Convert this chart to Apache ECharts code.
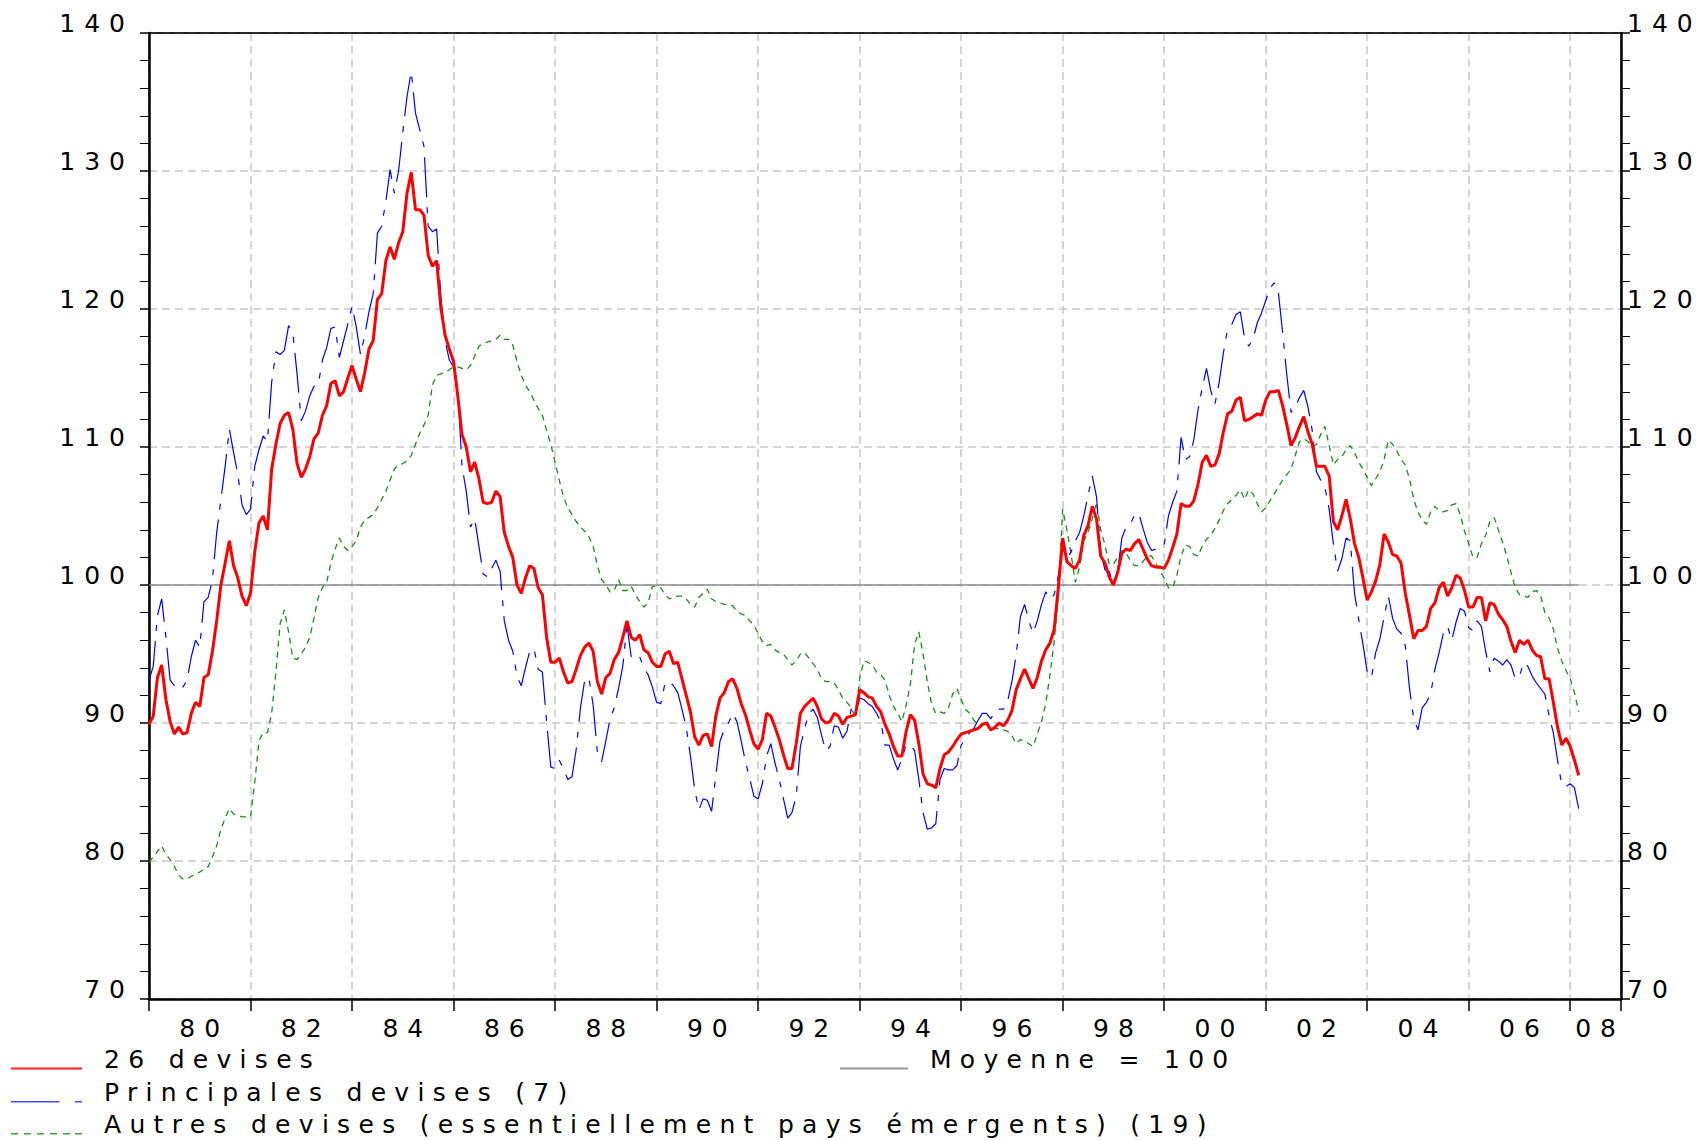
<!DOCTYPE html>
<html>
<head>
<meta charset="utf-8">
<title>Taux de change effectif</title>
<script src="https://cdn.jsdelivr.net/npm/echarts@6/dist/echarts.min.js"></script>
<style>
html, body { margin: 0; padding: 0; background: #fff; }
#chart { width: 1706px; height: 1140px; }
/* le texte de l'original est tres espace */
#chart text { letter-spacing: 9px; }
#chart text[style*="Verdana"] { letter-spacing: 8.3px; }
</style>
</head>
<body>
<div id="chart"></div>
<script>
// donnees mensuelles, janvier 1980 -> mars 2008
var startYear = 1980;

var devises26 = [
  89.9, 90.5, 93.3, 94.2, 91.7, 90.1, 89.2, 89.7, 89.2, 89.3, 90.7, 91.5,
  91.2, 93.3, 93.5, 95.2, 97.4, 100.0, 101.6, 103.2, 101.4, 100.5, 99.2, 98.5,
  99.4, 102.4, 104.5, 105.0, 104.0, 108.4, 110.2, 111.7, 112.3, 112.5, 111.3, 108.8,
  107.8, 108.4, 109.3, 110.6, 111.0, 112.3, 113.0, 114.6, 114.8, 113.7, 114.0, 115.0,
  115.9, 114.9, 114.0, 115.4, 117.1, 117.7, 120.7, 121.1, 123.5, 124.5, 123.6, 124.8,
  125.6, 128.4, 129.9, 127.2, 127.2, 126.8, 123.9, 123.1, 123.5, 120.1, 118.1, 117.1,
  116.2, 113.7, 110.9, 110.0, 108.2, 108.9, 107.7, 106.0, 105.9, 106.0, 106.8, 106.4,
  103.8, 102.8, 102.0, 100.0, 99.4, 100.5, 101.4, 101.2, 99.8, 99.3, 96.2, 94.4,
  94.4, 94.7, 93.7, 92.9, 93.0, 93.9, 94.9, 95.5, 95.8, 95.2, 93.0, 92.1,
  93.3, 93.6, 94.6, 95.1, 96.2, 97.4, 96.2, 96.0, 96.4, 95.3, 95.1, 94.4,
  94.1, 94.1, 95.0, 95.2, 94.3, 94.4, 93.2, 92.0, 90.8, 89.0, 88.4, 89.1,
  89.2, 88.3, 90.5, 91.8, 92.2, 93.0, 93.2, 92.5, 91.4, 90.6, 89.5, 88.5,
  88.1, 88.8, 90.7, 90.5, 89.7, 88.8, 87.7, 86.7, 86.7, 88.5, 90.7, 91.2,
  91.5, 91.8, 91.2, 90.3, 90.0, 90.1, 90.7, 90.5, 89.9, 90.4, 90.5, 90.6,
  92.4, 92.2, 91.9, 91.8, 91.2, 90.8, 89.9, 89.2, 88.3, 87.6, 87.6, 89.4,
  90.6, 90.2, 88.5, 86.3, 85.6, 85.5, 85.3, 86.7, 87.7, 87.9, 88.3, 88.8,
  89.2, 89.3, 89.4, 89.5, 89.6, 89.9, 90.0, 89.5, 89.7, 90.0, 89.8, 90.2,
  90.9, 92.4, 93.2, 93.9, 93.2, 92.5, 93.3, 94.5, 95.3, 95.8, 96.8, 99.9,
  103.4, 101.7, 101.4, 101.2, 101.8, 103.6, 104.3, 105.7, 104.8, 102.1, 101.6, 100.6,
  100.0, 100.9, 102.3, 102.6, 102.5, 103.0, 103.3, 102.6, 101.9, 101.4, 101.3, 101.3,
  101.2, 101.8, 102.7, 103.7, 105.9, 105.7, 105.7, 106.1, 107.3, 108.9, 109.4, 108.6,
  108.7, 109.5, 111.1, 112.4, 112.6, 113.4, 113.6, 111.9, 112.0, 112.2, 112.4, 112.3,
  113.4, 114.0, 114.0, 114.1, 113.0, 111.6, 110.1, 110.7, 111.5, 112.2, 111.1, 110.2,
  108.6, 108.6, 108.6, 107.9, 104.6, 104.0, 105.0, 106.2, 104.8, 103.0, 102.0, 100.5,
  98.9, 99.5, 100.3, 101.5, 103.7, 103.1, 102.2, 102.1, 101.6, 99.4, 97.8, 96.1,
  96.7, 96.7, 97.0, 98.3, 98.7, 99.8, 100.2, 99.2, 99.8, 100.7, 100.5, 99.6,
  98.4, 98.4, 99.1, 99.1, 97.4, 98.7, 98.6, 97.9, 97.5, 97.0, 95.9, 95.1,
  96.0, 95.7, 96.0, 95.3, 94.9, 94.8, 93.2, 93.2, 91.5, 89.7, 88.4, 88.9,
  88.3, 87.3, 86.2
];

var principales7 = [
  93.1, 94.1, 97.8, 99.0, 96.2, 93.1, 92.7, 92.9, 92.6, 93.1, 94.8, 96.0,
  95.5, 98.8, 99.1, 100.4, 103.8, 106.2, 108.6, 111.3, 109.6, 108.0, 105.8, 105.1,
  105.5, 108.6, 109.8, 110.8, 110.4, 114.7, 116.9, 116.7, 117.0, 118.8, 118.3, 115.3,
  111.9, 112.6, 113.7, 114.4, 114.5, 116.3, 117.2, 118.6, 118.7, 116.5, 117.7, 118.9,
  120.2, 118.7, 116.7, 118.1, 119.8, 121.1, 125.5, 126.0, 127.8, 130.1, 128.4, 130.0,
  132.8, 135.4, 137.2, 134.2, 133.0, 131.8, 126.0, 125.6, 125.8, 120.9, 117.7, 116.3,
  115.8, 114.3, 108.6, 106.8, 104.2, 104.8, 102.8, 100.8, 100.6, 101.2, 101.8, 101.0,
  97.4, 96.0, 95.2, 93.4, 92.7, 94.0, 95.2, 95.4, 93.9, 93.7, 90.1, 86.8,
  86.7, 87.3, 86.7, 85.9, 86.1, 88.1, 91.1, 93.1, 93.3, 91.3, 87.9, 87.2,
  88.7, 90.3, 91.1, 92.5, 94.1, 97.1, 94.8, 95.0, 94.8, 94.0, 93.5, 92.6,
  91.5, 91.4, 92.9, 93.0, 92.7, 92.2, 91.0, 89.7, 87.6, 85.2, 83.7, 84.5,
  84.4, 83.6, 86.2, 88.7, 89.5, 90.0, 90.7, 90.1, 88.7, 87.2, 86.0, 84.7,
  84.5, 85.6, 87.6, 88.5, 87.1, 85.9, 84.5, 83.1, 83.5, 84.7, 88.3, 89.6,
  90.7, 91.0, 90.4, 89.1, 88.0, 88.3, 89.8, 89.7, 88.9, 89.4, 91.0, 90.7,
  91.8, 91.7, 91.4, 91.2, 90.7, 90.1, 88.4, 88.4, 87.4, 86.6, 87.4, 88.4,
  88.4, 88.0, 85.9, 83.5, 82.3, 82.4, 82.7, 85.9, 86.7, 86.6, 86.6, 86.9,
  88.4, 88.8, 89.3, 89.6, 90.2, 90.7, 90.7, 90.3, 90.9, 91.0, 91.0, 91.6,
  93.0, 94.9, 97.7, 98.6, 97.4, 96.5, 97.4, 98.6, 99.5, 99.0, 99.3, 100.7,
  102.7, 101.9, 102.4, 103.2, 103.8, 105.0, 106.5, 107.9, 106.4, 102.4, 101.1, 101.0,
  100.0, 101.0, 103.4, 104.2, 104.4, 105.1, 105.2, 104.1, 103.1, 102.5, 102.6, 102.8,
  102.9, 105.0, 106.0, 106.8, 110.7, 109.1, 109.3, 110.5, 112.7, 114.3, 115.7, 114.1,
  113.1, 114.7, 116.8, 118.6, 118.9, 119.6, 119.8, 117.9, 117.3, 117.8, 119.0, 119.7,
  120.6, 121.5, 121.9, 121.2, 118.3, 115.2, 112.5, 112.9, 113.6, 114.1, 112.9, 111.2,
  108.2, 107.6, 107.1, 105.5, 103.0, 101.0, 101.9, 103.4, 103.2, 99.4, 97.5, 95.7,
  93.7, 93.3, 95.1, 96.1, 97.7, 99.2, 97.6, 96.8, 96.5, 95.6, 92.5, 90.3,
  89.5, 91.1, 91.5, 92.1, 93.9, 95.1, 96.5, 97.0, 96.0, 97.3, 98.3, 98.1,
  96.9, 96.7, 97.4, 97.0, 95.2, 93.7, 94.7, 94.5, 94.2, 94.6, 94.2, 93.2,
  93.4, 94.4, 94.1, 93.4, 92.9, 92.5, 92.1, 90.5, 89.3, 87.3, 85.5, 85.4,
  85.6, 85.3, 83.8
];

var autres19 = [
  79.9, 80.3, 80.7, 81.1, 80.5, 80.1, 79.6, 79.0, 78.7, 78.7, 78.9, 79.0,
  79.2, 79.4, 79.6, 80.3, 81.1, 82.3, 83.1, 83.8, 83.4, 83.3, 83.2, 83.2,
  83.2, 85.7, 88.7, 89.3, 89.3, 90.7, 93.7, 97.2, 98.2, 96.6, 94.7, 94.6,
  95.0, 95.5, 96.2, 97.6, 99.1, 99.8, 100.2, 101.6, 102.6, 103.4, 102.8, 102.5,
  102.8, 103.2, 104.2, 104.7, 104.9, 105.1, 105.6, 106.2, 106.8, 107.6, 108.4, 108.7,
  108.8, 109.0, 109.4, 110.2, 111.0, 111.6, 112.3, 114.5, 115.2, 115.3, 115.4, 115.6,
  115.8, 115.8, 115.7, 115.6, 115.9, 116.6, 117.3, 117.5, 117.6, 117.7, 117.8, 118.1,
  117.8, 117.8, 117.4, 116.2, 115.2, 114.5, 114.0, 113.4, 112.8, 112.3, 111.2, 110.2,
  108.9, 107.6, 106.4, 105.6, 105.1, 104.6, 104.2, 103.9, 103.5, 102.8, 101.4, 100.4,
  100.0, 99.5, 99.6, 100.4, 99.6, 99.6, 99.9, 99.3, 98.8, 98.4, 98.7, 99.9,
  99.9, 99.8, 99.3, 99.0, 99.1, 99.2, 99.2, 99.0, 98.6, 98.4, 99.1, 99.4,
  99.7, 99.0, 98.8, 98.7, 98.6, 98.6, 98.5, 98.1, 97.9, 97.8, 97.4, 97.1,
  96.5, 95.9, 95.6, 95.7, 95.3, 95.1, 95.0, 94.6, 94.2, 94.5, 95.0, 95.1,
  94.7, 94.3, 93.9, 93.2, 93.0, 93.0, 92.9, 92.4, 91.8, 91.5, 91.1, 90.4,
  93.2, 94.5, 94.4, 94.2, 93.7, 93.5, 93.1, 92.0, 91.2, 90.7, 90.1, 91.3,
  92.8, 95.7, 96.6, 95.0, 93.0, 91.4, 90.7, 90.8, 90.7, 91.1, 92.1, 92.5,
  91.7, 91.0, 90.7, 90.2, 89.9, 89.8, 90.2, 89.5, 89.6, 89.6, 89.5, 89.4,
  89.1, 88.5, 88.8, 88.7, 88.5, 88.3, 89.2, 90.1, 91.4, 93.5, 95.9, 99.3,
  105.5, 104.0, 102.2, 100.2, 101.3, 103.2, 103.8, 104.8, 106.0, 104.0, 102.9, 101.5,
  101.5, 102.0, 102.5, 102.3, 101.8, 101.4, 101.4, 101.7, 102.1, 102.1, 101.6, 101.0,
  100.5, 99.8, 99.8, 100.7, 102.1, 102.9, 102.8, 102.2, 102.1, 102.8, 103.3, 103.6,
  104.1, 104.7, 105.4, 105.9, 106.2, 106.5, 106.9, 106.2, 106.9, 106.6, 105.9, 105.3,
  105.6, 106.1, 106.6, 107.1, 107.6, 108.0, 108.4, 109.4, 110.4, 110.6, 110.4, 110.0,
  110.2, 110.9, 111.5, 110.1, 108.7, 109.1, 109.3, 109.8, 110.1, 109.6, 108.9, 108.4,
  107.8, 107.2, 107.7, 108.2, 109.1, 110.5, 110.2, 109.7, 109.1, 108.7, 107.7, 106.2,
  105.3, 104.7, 104.4, 105.3, 105.7, 105.4, 105.3, 105.4, 105.8, 105.9, 105.1, 103.9,
  103.0, 102.0, 102.0, 103.0, 103.6, 104.6, 104.9, 104.0, 103.1, 102.1, 100.9, 99.8,
  99.3, 99.2, 99.1, 99.5, 99.6, 99.2, 98.0, 97.6, 96.8, 95.4, 94.5, 93.8,
  93.2, 92.2, 90.8
];

var moyenne = 100;

// etiquettes de l'axe des x, centrees entre les graduations
var xLabelPos = [1981, 1983, 1985, 1987, 1989, 1991, 1993, 1995, 1997, 1999, 2001, 2003, 2005, 2007, 2008.5];
var xLabels = ['80', '82', '84', '86', '88', '90', '92', '94', '96', '98', '00', '02', '04', '06', '08'];

var yMin = 70, yMax = 140, yStep = 10;

var nom26 = '26 devises';
var nom7 = 'Principales devises (7)';
var nom19 = 'Autres devises (essentiellement pays émergents) (19)';
var nomMoy = 'Moyenne = 100';

function toPairs(arr) {
    var out = [];
    for (var i = 0; i < arr.length; i++) {
        out.push([startYear + i / 12, arr[i]]);
    }
    return out;
}

var lastX = startYear + (devises26.length - 1) / 12;
var moyenneData = [[startYear, moyenne], [lastX, moyenne]];

var axisFont = { fontSize: 25, fontFamily: 'DejaVu Sans', color: '#000' };
var legendFont = { fontSize: 25, fontFamily: 'Verdana, DejaVu Sans', color: '#000', lineHeight: 20, padding: [0, 0, 0, 17] };

var gridLine = { show: true, lineStyle: { type: [8, 5], color: '#c8c8c8', width: 1.5 } };

// icones de legende : trait pose sur la ligne de base du texte
// (le petit triangle en haut sert seulement a fixer la hauteur de la boite)
var top0 = 'M0,0 L0.01,0 L0,0.01 Z ';
var icon26 = 'path://' + top0 + 'M0,18 L71,18 L71,20 L0,20 Z';
var icon7 = 'path://' + top0 + 'M0,18.5 L47,18.5 L47,20 L0,20 Z M62,18.5 L69,18.5 L69,20 L62,20 Z';
var icon19 = 'path://' + top0 + 'M0,18.5 L7,18.5 L7,20 L0,20 Z M13,18.5 L20,18.5 L20,20 L13,20 Z ' +
    'M26,18.5 L33,18.5 L33,20 L26,20 Z M39,18.5 L46,18.5 L46,20 L39,20 Z ' +
    'M52,18.5 L59,18.5 L59,20 L52,20 Z M64,18.5 L71,18.5 L71,20 L64,20 Z';
var iconMoy = 'path://' + top0 + 'M0,18 L68,18 L68,20 L0,20 Z';

function oneLegend(name, icon, left, top, w) {
    return {
        orient: 'horizontal',
        left: left,
        top: top,
        padding: 0,
        itemWidth: w,
        itemHeight: 20,
        symbolKeepAspect: false,
        icon: icon,
        data: [name],
        textStyle: legendFont
    };
}

function yAxisDef(pos) {
    return {
        type: 'value',
        position: pos,
        min: yMin,
        max: yMax,
        interval: yStep,
        axisLine: { show: true, onZero: false, lineStyle: { color: '#000', width: 2.5 } },
        axisTick: { show: true, length: 9, lineStyle: { color: '#000', width: 1.5 } },
        minorTick: { show: true, splitNumber: 5, length: 9, lineStyle: { color: '#000', width: 1 } },
        splitLine: pos == 'left' ? gridLine : { show: false },
        axisLabel: {
            margin: pos == 'left' ? 15 : 6,
            verticalAlign: 'bottom',
            lineHeight: 20,
            fontSize: axisFont.fontSize,
            fontFamily: axisFont.fontFamily,
            color: axisFont.color
        }
    };
}

var option = {
    backgroundColor: '#fff',
    animation: false,
    grid: { left: 149, right: 85, top: 33, bottom: 141, show: true, borderColor: '#000', borderWidth: 1 },
    legend: [
        oneLegend(nom26, icon26, 11, 1047, 71),
        oneLegend(nom7, icon7, 11, 1080, 71),
        oneLegend(nom19, icon19, 11, 1112, 71),
        oneLegend(nomMoy, iconMoy, 840, 1047, 68)
    ],
    xAxis: [{
        type: 'value',
        min: 1980,
        max: 2009,
        interval: 2,
        axisLine: { onZero: false, lineStyle: { color: '#000', width: 2.5 } },
        axisTick: { length: 12, lineStyle: { color: '#000', width: 1.5 } },
        axisLabel: { show: false },
        splitLine: gridLine
    }, {
        type: 'value',
        position: 'bottom',
        offset: 0,
        min: 1980,
        max: 2009,
        interval: 0.5,
        axisLine: { show: false, onZero: false },
        axisTick: { show: false },
        splitLine: { show: false },
        axisLabel: {
            margin: 29,
            verticalAlign: 'middle',
            padding: [0, 0, 0, 9],
            fontSize: axisFont.fontSize,
            fontFamily: axisFont.fontFamily,
            color: axisFont.color,
            formatter: function (v) {
                for (var i = 0; i < xLabelPos.length; i++) {
                    if (Math.abs(xLabelPos[i] - v) < 1e-6) return xLabels[i];
                }
                return '';
            }
        }
    }, {
        // bord superieur noir, par-dessus la grille pointillee de 140
        type: 'value',
        position: 'top',
        offset: 0,
        min: 1980,
        max: 2009,
        axisLine: { show: true, onZero: false, lineStyle: { color: '#000', width: 1.5 } },
        axisTick: { show: false },
        axisLabel: { show: false },
        splitLine: { show: false }
    }],
    yAxis: [yAxisDef('left'), yAxisDef('right')],
    series: [{
        name: nomMoy,
        type: 'line',
        data: moyenneData,
        symbol: 'none',
        silent: true,
        lineStyle: { color: '#8c8c8c', width: 1.5 },
        itemStyle: { color: '#9a9a9a' }
    }, {
        name: nom19,
        type: 'line',
        data: toPairs(autres19),
        symbol: 'none',
        lineStyle: { color: '#1a8c1a', width: 1.3, type: [6, 5] },
        itemStyle: { color: '#3ca03c' }
    }, {
        name: nom7,
        type: 'line',
        data: toPairs(principales7),
        symbol: 'none',
        lineStyle: { color: '#0000ff', width: 1.2, type: [40, 10, 6, 10] },
        itemStyle: { color: '#4a4aff' }
    }, {
        name: nom26,
        type: 'line',
        data: toPairs(devises26),
        symbol: 'none',
        lineStyle: { color: '#ff0000', width: 3 },
        itemStyle: { color: '#ff2020' }
    }]
};

var chart = echarts.init(document.getElementById('chart'), null, { renderer: 'svg' });
chart.setOption(option);
</script>
</body>
</html>
